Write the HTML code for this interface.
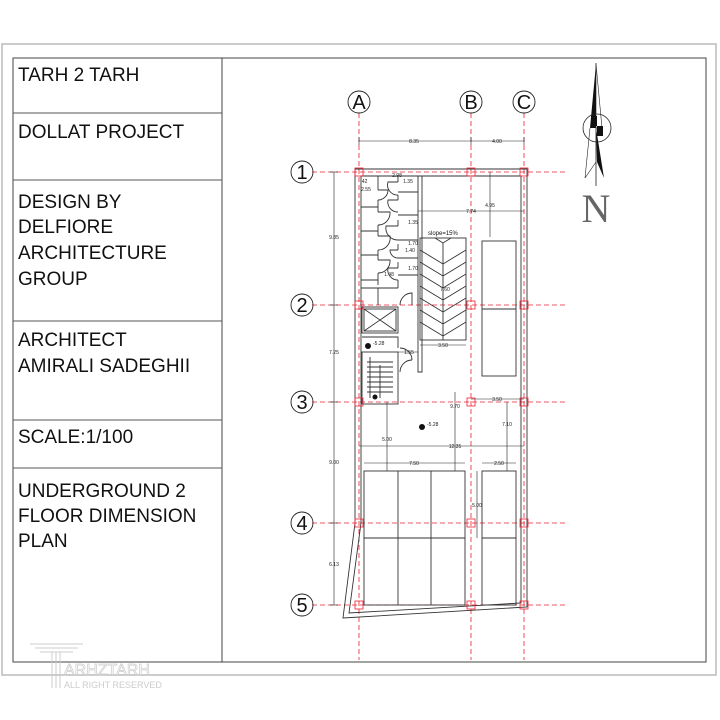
<!DOCTYPE html>
<html><head><meta charset="utf-8"><style>
html,body{margin:0;padding:0;background:#fff;width:720px;height:720px;overflow:hidden}
svg{display:block}
.t{font-family:"Liberation Sans",sans-serif;font-size:19px;fill:#111}
.d{font-family:"Liberation Sans",sans-serif;font-size:5px;fill:#222}
</style></head><body>
<svg width="720" height="720" viewBox="0 0 720 720" xmlns="http://www.w3.org/2000/svg">
<rect x="2" y="44" width="714" height="631" fill="none" stroke="#bbb" stroke-width="1.5"/>
<rect x="13" y="58" width="693" height="604" fill="none" stroke="#444" stroke-width="1"/>
<line x1="222" y1="58" x2="222" y2="662" stroke="#444"/>
<g stroke="#555" stroke-width="1">
<line x1="13" y1="113" x2="222" y2="113"/><line x1="13" y1="180" x2="222" y2="180"/>
<line x1="13" y1="321" x2="222" y2="321"/><line x1="13" y1="420" x2="222" y2="420"/>
<line x1="13" y1="468" x2="222" y2="468"/></g>
<text class="t" x="18" y="81">TARH 2 TARH</text>
<text class="t" x="18" y="138">DOLLAT PROJECT</text>
<text class="t" x="18" y="208">DESIGN BY</text>
<text class="t" x="18" y="233">DELFIORE</text>
<text class="t" x="18" y="259">ARCHITECTURE</text>
<text class="t" x="18" y="285">GROUP</text>
<text class="t" x="18" y="346">ARCHITECT</text>
<text class="t" x="18" y="372">AMIRALI SADEGHII</text>
<text class="t" x="18" y="443">SCALE:1/100</text>
<text class="t" x="18" y="497">UNDERGROUND 2</text>
<text class="t" x="18" y="522">FLOOR DIMENSION</text>
<text class="t" x="18" y="547">PLAN</text>
<g stroke="#ccc" fill="none" stroke-width="1">
<line x1="30" y1="644" x2="83" y2="644"/><line x1="35" y1="648" x2="78" y2="648"/><line x1="40" y1="652" x2="73" y2="652"/>
<line x1="52" y1="652" x2="52" y2="688"/><line x1="56" y1="652" x2="56" y2="688"/><line x1="60" y1="652" x2="60" y2="688"/>
</g>
<text x="64" y="675" font-family="Liberation Sans" font-size="16" fill="none" stroke="#ccc" stroke-width="0.7">ARHZTARH</text>
<text x="64" y="688" font-family="Liberation Sans" font-size="9" fill="#ccc">ALL RIGHT RESERVED</text>
<g stroke="#e23" stroke-width="0.8" stroke-dasharray="5,3" fill="none">
<line x1="359" y1="113" x2="359" y2="660"/><line x1="471" y1="113" x2="471" y2="660"/><line x1="524" y1="113" x2="524" y2="660"/>
<line x1="312" y1="172" x2="568" y2="172"/><line x1="312" y1="305" x2="568" y2="305"/><line x1="312" y1="402" x2="568" y2="402"/>
<line x1="312" y1="523" x2="568" y2="523"/><line x1="312" y1="605" x2="568" y2="605"/>
</g>
<g fill="none" stroke="#222" stroke-width="0.9">
<circle cx="359" cy="102" r="11"/><circle cx="471" cy="102" r="11"/><circle cx="524" cy="102" r="11"/>
<circle cx="302" cy="172" r="11"/><circle cx="302" cy="305" r="11"/><circle cx="302" cy="402" r="11"/><circle cx="302" cy="523" r="11"/><circle cx="302" cy="605" r="11"/>
</g>
<g font-family="Liberation Sans" font-size="20" fill="#111" text-anchor="middle">
<text x="359" y="109">A</text><text x="471" y="109">B</text><text x="524" y="109">C</text>
<text x="302" y="179">1</text><text x="302" y="312">2</text><text x="302" y="409">3</text><text x="302" y="530">4</text><text x="302" y="612">5</text>
</g>
<g stroke="#222" stroke-width="0.6" fill="none">
<line x1="359" y1="141" x2="524" y2="141"/><line x1="359" y1="137" x2="359" y2="145"/><line x1="471" y1="137" x2="471" y2="145"/><line x1="524" y1="137" x2="524" y2="145"/>
<line x1="334" y1="172" x2="334" y2="605"/>
<line x1="330" y1="172" x2="338" y2="172"/><line x1="330" y1="305" x2="338" y2="305"/><line x1="330" y1="402" x2="338" y2="402"/><line x1="330" y1="523" x2="338" y2="523"/><line x1="330" y1="605" x2="338" y2="605"/>
<line x1="359" y1="446" x2="524" y2="446"/>
<line x1="364" y1="463" x2="465" y2="463"/><line x1="482" y1="463" x2="516" y2="463"/>
<line x1="387" y1="402" x2="387" y2="471"/><line x1="455" y1="392" x2="455" y2="471"/><line x1="507" y1="402" x2="507" y2="471"/>
<line x1="477" y1="471" x2="477" y2="538"/>
<line x1="490" y1="172" x2="490" y2="237"/><line x1="418" y1="211" x2="524" y2="211"/>
<line x1="420" y1="345" x2="466" y2="345"/><line x1="471" y1="399" x2="524" y2="399"/>
<line x1="398" y1="352" x2="418" y2="352"/>
</g>
<g class="d" text-anchor="middle">
<text x="414" y="143">8.35</text><text x="497" y="143">4.00</text>
<text x="334" y="239">9.85</text><text x="334" y="354">7.25</text><text x="334" y="464">9.00</text><text x="334" y="566">6.13</text>
<text x="455" y="448">12.35</text><text x="414" y="465">7.50</text><text x="499" y="465">2.50</text>
<text x="387" y="441">5.00</text><text x="455" y="408">9.70</text><text x="507" y="426">7.10</text><text x="477" y="507">5.00</text>
<text x="490" y="207">4.95</text><text x="471" y="213">7.74</text><text x="443" y="347">3.50</text><text x="497" y="401">3.50</text>
<text x="445" y="291">7.60</text><text x="409" y="354">1.55</text>
<text x="397" y="177">2.98</text><text x="408" y="183">1.35</text><text x="364" y="183">.42</text><text x="366" y="191">2.55</text>
<text x="413" y="224">1.35</text><text x="413" y="245">1.70</text><text x="410" y="252">1.40</text><text x="413" y="270">1.70</text><text x="389" y="276">1.48</text>
</g>
<text x="428" y="235" font-family="Liberation Sans" font-size="6" fill="#111">slope=15%</text>
<g fill="none" stroke="#333" stroke-width="0.9">
<path d="M355 172 V523 L343 618 L527 607 V169 H355 Z"/>
<path d="M361 176 V523 L349 613 L521 603 V176 Z"/>
<polyline points="418,176 418,372 422,372 422,176"/>
<line x1="361" y1="207" x2="378" y2="207"/><line x1="361" y1="231" x2="378" y2="231"/><line x1="361" y1="255" x2="378" y2="255"/><line x1="361" y1="280" x2="378" y2="280"/>
<line x1="378" y1="176" x2="378" y2="190"/><line x1="378" y1="200" x2="378" y2="212"/><line x1="378" y1="225" x2="378" y2="236"/><line x1="378" y1="250" x2="378" y2="260"/><line x1="378" y1="273" x2="378" y2="285"/>
<line x1="398" y1="192" x2="418" y2="192"/><line x1="398" y1="215" x2="418" y2="215"/><line x1="398" y1="240" x2="418" y2="240"/><line x1="398" y1="258" x2="418" y2="258"/><line x1="398" y1="275" x2="418" y2="275"/>
<line x1="398" y1="176" x2="398" y2="182"/><line x1="398" y1="195" x2="398" y2="200"/><line x1="398" y1="220" x2="398" y2="226"/><line x1="398" y1="244" x2="398" y2="250"/><line x1="398" y1="262" x2="398" y2="268"/><line x1="398" y1="280" x2="398" y2="288"/>
<line x1="361" y1="288" x2="398" y2="288"/><line x1="378" y1="288" x2="378" y2="305"/>
<path d="M378 190 L388 190 A10 10 0 0 1 378 200"/><path d="M378 212 L390 212 A12 12 0 0 1 378 225"/><path d="M378 236 L390 236 A12 12 0 0 1 378 250"/><path d="M378 260 L390 260 A12 12 0 0 1 378 273"/>
<path d="M398 182 L388 182 A10 10 0 0 0 398 195"/><path d="M398 200 L388 200 A10 10 0 0 0 398 212"/><path d="M398 226 L386 226 A12 12 0 0 0 398 240"/><path d="M398 250 L390 250 A8 8 0 0 0 398 258"/><path d="M398 268 L388 268 A10 10 0 0 0 398 280"/>
<path d="M400 305 A12 12 0 0 1 412 293 V305"/><path d="M400 348 A12 12 0 0 1 412 360"/><path d="M400 372 A12 12 0 0 1 412 360"/>
<rect x="362" y="307" width="36" height="26"/><rect x="364" y="309" width="32" height="22"/>
<line x1="364" y1="309" x2="396" y2="331"/><line x1="396" y1="309" x2="364" y2="331"/>
<polyline points="362,337 398,337 398,348"/>
<rect x="362" y="352" width="36" height="52"/>
<line x1="370" y1="357" x2="370" y2="398"/><line x1="380" y1="365" x2="380" y2="398"/>
<path d="M367 362H393M367 367H393M367 372H393M367 377H393M367 382H393M367 387H393M367 392H393"/>
<rect x="420" y="238" width="46" height="102"/>
<path d="M420 250 L443 264 L466 250 M420 262 L443 276 L466 262 M420 274 L443 288 L466 274 M420 286 L443 300 L466 286 M420 298 L443 312 L466 298 M420 310 L443 324 L466 310 M420 322 L443 336 L466 322 M435 238 L443 243 L451 238"/>
<line x1="443" y1="243" x2="443" y2="340"/>
<rect x="482" y="241" width="34" height="135"/><line x1="482" y1="309" x2="516" y2="309"/>
<rect x="364" y="471" width="101" height="134"/><line x1="398" y1="471" x2="398" y2="605"/><line x1="431" y1="471" x2="431" y2="605"/><line x1="364" y1="538" x2="465" y2="538"/>
<rect x="482" y="471" width="34" height="134"/><line x1="482" y1="538" x2="516" y2="538"/>
</g>
<g fill="none" stroke="#e23" stroke-width="0.8">
<rect x="355" y="168" width="8" height="8"/><rect x="467" y="168" width="8" height="8"/><rect x="520" y="168" width="8" height="8"/>
<rect x="355" y="301" width="8" height="8"/><rect x="467" y="301" width="8" height="8"/><rect x="520" y="301" width="8" height="8"/>
<rect x="355" y="398" width="8" height="8"/><rect x="467" y="398" width="8" height="8"/><rect x="520" y="398" width="8" height="8"/>
<rect x="355" y="519" width="8" height="8"/><rect x="467" y="519" width="8" height="8"/><rect x="520" y="519" width="8" height="8"/>
<rect x="355" y="601" width="8" height="8"/><rect x="467" y="601" width="8" height="8"/><rect x="520" y="601" width="8" height="8"/>
</g>
<circle cx="368" cy="346" r="3" fill="#111"/><text x="373" y="345" class="d" font-size="6">-5.28</text>
<circle cx="422" cy="427" r="3" fill="#111"/><text x="427" y="426" class="d" font-size="6">-5.28</text>
<circle cx="375" cy="397" r="2.5" fill="#111"/>
<line x1="596" y1="63" x2="596" y2="186" stroke="#222" stroke-width="0.8"/>
<polygon points="596,64 590,128 596,128" fill="#111"/>
<polygon points="596,64 602,128 596,128" fill="#fff" stroke="#222" stroke-width="0.6"/>
<circle cx="597" cy="128" r="14" fill="none" stroke="#222" stroke-width="0.8"/>
<rect x="591" y="116" width="6" height="10" fill="#111"/><rect x="597" y="126" width="6" height="10" fill="#111"/>
<polygon points="596,128 604,178 597,162" fill="#111"/>
<polyline points="590,128 585,178 596,162" fill="none" stroke="#222" stroke-width="0.6"/>
<text x="596" y="222" text-anchor="middle" font-family="Liberation Serif" font-size="40" fill="#666">N</text>
</svg>
</body></html>
